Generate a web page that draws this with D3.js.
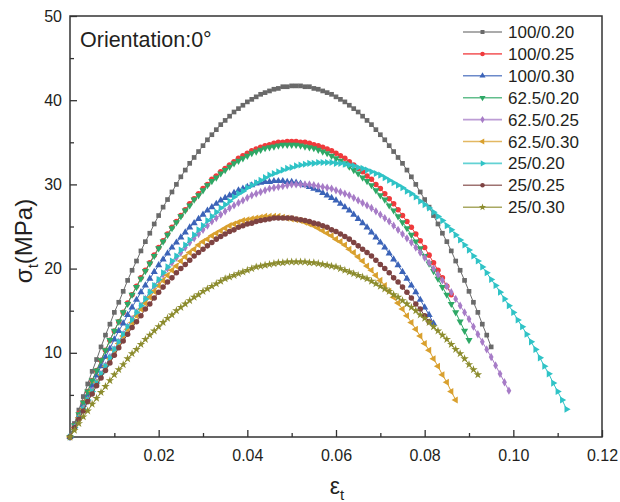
<!DOCTYPE html>
<html><head><meta charset="utf-8">
<script src="https://cdn.jsdelivr.net/npm/d3@7"></script>
<style>
body{margin:0;background:#fff}
svg{display:block}
text{font-family:"Liberation Sans",Arial,Helvetica,sans-serif;fill:#231f20}
</style></head>
<body><svg id="chart" width="620" height="502"></svg>
<script>
// strain values (shared x grid)
const strain = [0,0.001,0.002,0.003,0.004,0.005,0.006,0.007,0.008,0.009,0.010,0.011,0.012,0.013,0.014,0.015,0.016,0.017,0.018,0.019,0.020,0.021,0.022,0.023,0.024,0.025,0.026,0.027,0.028,0.029,0.030,0.031,0.032,0.033,0.034,0.035,0.036,0.037,0.038,0.039,0.040,0.041,0.042,0.043,0.044,0.045,0.046,0.047,0.048,0.049,0.050,0.051,0.052,0.053,0.054,0.055,0.056,0.057,0.058,0.059,0.060,0.061,0.062,0.063,0.064,0.065,0.066,0.067,0.068,0.069,0.070,0.071,0.072,0.073,0.074,0.075,0.076,0.077,0.078,0.079,0.080,0.081,0.082,0.083,0.084,0.085,0.086,0.087,0.088,0.089,0.090,0.091,0.092,0.093,0.094,0.095,0.096,0.097,0.098,0.099,0.100,0.101,0.102,0.103,0.104,0.105,0.106,0.107,0.108,0.109,0.110,0.111,0.112];

const seriesNames = ["100/0.20","100/0.25","100/0.30","62.5/0.20","62.5/0.25","62.5/0.30","25/0.20","25/0.25","25/0.30"];

// stress (MPa) per series, one value per strain step
const s100_020 = [0,1.6,3.2,4.8,6.3,7.8,9.2,10.7,12.1,13.4,14.8,16.0,17.3,18.6,19.8,20.9,22.1,23.2,24.2,25.3,26.3,27.3,28.2,29.1,30.0,30.9,31.7,32.5,33.2,33.9,34.6,35.3,35.9,36.5,37.1,37.6,38.1,38.6,39.0,39.4,39.8,40.1,40.4,40.7,40.9,41.1,41.3,41.4,41.6,41.6,41.7,41.7,41.7,41.6,41.6,41.4,41.3,41.1,40.9,40.7,40.4,40.1,39.8,39.4,39.0,38.6,38.1,37.6,37.1,36.5,35.9,35.3,34.6,33.9,33.2,32.5,31.7,30.9,30.0,29.1,28.2,27.3,26.3,25.3,24.2,23.2,22.1,20.9,19.8,18.6,17.3,16.0,14.8,13.4,12.1,10.7];
const s100_025 = [0,1.4,2.8,4.1,5.4,6.7,7.9,9.1,10.3,11.5,12.6,13.7,14.8,15.9,16.9,17.9,18.9,19.8,20.7,21.6,22.5,23.3,24.1,24.9,25.6,26.3,27.0,27.7,28.3,28.9,29.5,30.0,30.6,31.0,31.5,31.9,32.3,32.7,33.1,33.4,33.7,34.0,34.2,34.4,34.6,34.7,34.9,35.0,35.0,35.1,35.1,35.1,35.0,35.0,34.9,34.7,34.6,34.4,34.2,34.0,33.7,33.4,33.1,32.7,32.3,31.9,31.5,31.0,30.6,30.0,29.5,28.9,28.3,27.7,27.0,26.3,25.6,24.9,24.1,23.3,22.5,21.6,20.7,19.8,18.9,17.9,16.9];
const s100_030 = [0,1.3,2.5,3.8,5.0,6.1,7.3,8.4,9.5,10.5,11.6,12.6,13.5,14.5,15.4,16.3,17.2,18.0,18.8,19.6,20.4,21.1,21.8,22.5,23.1,23.7,24.3,24.9,25.4,25.9,26.4,26.9,27.3,27.7,28.1,28.4,28.7,29.0,29.3,29.5,29.7,29.9,30.1,30.2,30.3,30.3,30.4,30.4,30.4,30.3,30.3,30.2,30.1,29.9,29.7,29.5,29.3,29.0,28.7,28.4,28.1,27.7,27.3,26.9,26.4,25.9,25.4,24.9,24.3,23.7,23.1,22.5,21.8,21.1,20.4,19.6,18.8,18.0,17.2,16.3,15.4,14.5,13.5];
const s625_020 = [0,1.4,2.7,4.1,5.4,6.7,7.9,9.1,10.3,11.5,12.6,13.7,14.8,15.8,16.9,17.8,18.8,19.7,20.6,21.5,22.4,23.2,24.0,24.8,25.5,26.2,26.9,27.5,28.2,28.7,29.3,29.9,30.4,30.8,31.3,31.7,32.1,32.5,32.8,33.1,33.4,33.7,33.9,34.1,34.3,34.4,34.5,34.6,34.7,34.7,34.7,34.7,34.6,34.5,34.4,34.3,34.1,33.9,33.7,33.4,33.1,32.8,32.5,32.1,31.7,31.3,30.8,30.4,29.9,29.3,28.7,28.2,27.5,26.9,26.2,25.5,24.8,24.0,23.2,22.4,21.5,20.6,19.7,18.8,17.8,16.9,15.8,14.8,13.7,12.6,11.5];
const s625_025 = [0,1.1,2.3,3.4,4.4,5.5,6.5,7.5,8.5,9.5,10.4,11.3,12.2,13.1,14.0,14.8,15.6,16.4,17.2,17.9,18.6,19.3,20.0,20.7,21.3,21.9,22.5,23.1,23.6,24.1,24.6,25.1,25.6,26.0,26.4,26.8,27.2,27.5,27.8,28.1,28.4,28.7,28.9,29.1,29.3,29.5,29.6,29.7,29.8,29.9,30.0,30.0,30.0,30.0,30.0,29.9,29.8,29.7,29.6,29.5,29.3,29.1,28.9,28.7,28.4,28.1,27.8,27.5,27.2,26.8,26.4,26.0,25.6,25.1,24.6,24.1,23.6,23.1,22.5,21.9,21.3,20.7,20.0,19.3,18.6,17.9,17.2,16.4,15.6,14.8,14.0,13.1,12.2,11.3,10.4,9.5,8.5,7.5,6.5,5.5];
const s625_030 = [0,1.1,2.3,3.3,4.4,5.4,6.5,7.4,8.4,9.3,10.3,11.1,12.0,12.8,13.6,14.4,15.2,15.9,16.6,17.3,18.0,18.6,19.2,19.8,20.3,20.9,21.4,21.9,22.3,22.8,23.2,23.5,23.9,24.2,24.5,24.8,25.1,25.3,25.5,25.7,25.8,25.9,26.0,26.1,26.2,26.2,26.2,26.2,26.1,26.0,25.9,25.8,25.7,25.5,25.3,25.1,24.8,24.5,24.2,23.9,23.5,23.2,22.8,22.3,21.9,21.4,20.9,20.3,19.8,19.2,18.6,18.0,17.3,16.6,15.9,15.2,14.4,13.6,12.8,12.0,11.1,10.3,9.3,8.4,7.4,6.5,5.4,4.4];
const s25_020 = [0,1.1,2.2,3.3,4.4,5.4,6.4,7.5,8.4,9.4,10.4,11.3,12.2,13.1,13.9,14.8,15.6,16.4,17.2,18.0,18.7,19.5,20.2,20.9,21.5,22.2,22.8,23.4,24.0,24.6,25.1,25.7,26.2,26.7,27.2,27.6,28.0,28.5,28.9,29.2,29.6,29.9,30.2,30.5,30.8,31.1,31.3,31.5,31.7,31.9,32.0,32.2,32.3,32.4,32.5,32.5,32.6,32.6,32.6,32.6,32.5,32.5,32.4,32.3,32.2,32.0,31.9,31.7,31.5,31.3,31.1,30.8,30.5,30.2,29.9,29.6,29.2,28.9,28.5,28.0,27.6,27.2,26.7,26.2,25.7,25.1,24.6,24.0,23.4,22.8,22.2,21.5,20.9,20.2,19.5,18.7,18.0,17.2,16.4,15.6,14.8,13.9,13.1,12.2,11.3,10.4,9.4,8.4,7.5,6.4,5.4,4.4,3.3];
const s25_025 = [0,1.1,2.1,3.1,4.2,5.1,6.1,7.0,7.9,8.8,9.7,10.6,11.4,12.2,13.0,13.7,14.4,15.2,15.8,16.5,17.2,17.8,18.4,18.9,19.5,20.0,20.5,21.0,21.5,21.9,22.3,22.7,23.1,23.5,23.8,24.1,24.4,24.6,24.9,25.1,25.3,25.4,25.6,25.7,25.8,25.9,26.0,26.0,26.0,26.0,26.0,25.9,25.8,25.7,25.6,25.4,25.3,25.1,24.9,24.6,24.4,24.1,23.8,23.5,23.1,22.7,22.3,21.9,21.5,21.0,20.5,20.0,19.5,18.9,18.4,17.8,17.2,16.5,15.8,15.2,14.4,13.7];
const s25_030 = [0,0.8,1.6,2.4,3.1,3.9,4.6,5.3,6.0,6.7,7.4,8.0,8.6,9.3,9.9,10.4,11.0,11.6,12.1,12.6,13.1,13.6,14.1,14.5,15.0,15.4,15.8,16.2,16.6,16.9,17.3,17.6,17.9,18.2,18.5,18.8,19.0,19.2,19.4,19.6,19.8,20.0,20.2,20.3,20.4,20.5,20.6,20.7,20.7,20.8,20.8,20.8,20.8,20.8,20.7,20.7,20.6,20.5,20.4,20.3,20.2,20.0,19.8,19.6,19.4,19.2,19.0,18.8,18.5,18.2,17.9,17.6,17.3,16.9,16.6,16.2,15.8,15.4,15.0,14.5,14.1,13.6,13.1,12.6,12.1,11.6,11.0,10.4,9.9,9.3,8.6,8.0,7.4];

const xTicks = [0.02,0.04,0.06,0.08,0.10,0.12];
const xMinorTicks = [0.01,0.03,0.05,0.07,0.09,0.11];
const yTicks = [10,20,30,40,50];
const yMinorTicks = [5,15,25,35,45];

const seriesValues = [s100_020,s100_025,s100_030,s625_020,s625_025,s625_030,s25_020,s25_025,s25_030];
const colors = ["#6a6a6a","#f03a3c","#3b63b8","#2ea866","#a77cc7","#d9a02e","#2fc3c6","#7e4342","#8c8c2e"];
const markers = [
  {t:d3.symbolSquare, r:0, s:22},
  {t:d3.symbolCircle, r:0, s:24},
  {t:d3.symbolTriangle, r:0, s:22},
  {t:d3.symbolTriangle, r:180, s:22},
  {t:d3.symbolDiamond, r:0, s:20},
  {t:d3.symbolTriangle, r:-90, s:22},
  {t:d3.symbolTriangle, r:90, s:22},
  {t:d3.symbolCircle, r:0, s:24},
  {t:d3.symbolStar, r:0, s:22}
];

const svg = d3.select("#chart");
const L = 70, R = 602, T = 16, B = 437;
const x = d3.scaleLinear().domain([0,0.12]).range([L,R]);
const y = d3.scaleLinear().domain([0,50]).range([B,T]);

// axes
const gx = svg.append("g").attr("transform",`translate(0,${B})`)
  .call(d3.axisBottom(x).tickValues(xTicks).tickFormat(d3.format(".2f")).tickSizeInner(-7).tickSizeOuter(0).tickPadding(13));
const gxm = svg.append("g").attr("transform",`translate(0,${B})`)
  .call(d3.axisBottom(x).tickValues(xMinorTicks).tickFormat("").tickSizeInner(-4).tickSizeOuter(0));
const gy = svg.append("g").attr("transform",`translate(${L},0)`)
  .call(d3.axisLeft(y).tickValues(yTicks).tickFormat(d3.format("d")).tickSizeInner(-7).tickSizeOuter(0).tickPadding(8));
const gym = svg.append("g").attr("transform",`translate(${L},0)`)
  .call(d3.axisLeft(y).tickValues(yMinorTicks).tickFormat("").tickSizeInner(-4).tickSizeOuter(0));
[gx,gxm,gy,gym].forEach(g=>{
  g.select(".domain").remove();
  g.selectAll(".tick line").attr("stroke","#333").attr("stroke-width",1.3);
  g.selectAll(".tick text").style("font-size","16px").attr("fill","#231f20");
});

// frame
svg.append("rect").attr("x",L).attr("y",T).attr("width",R-L).attr("height",B-T)
  .attr("fill","none").attr("stroke","#333").attr("stroke-width",1.5);

// series
const line = d3.line().x(d=>x(d.x)).y(d=>y(d.y));
seriesValues.forEach((vals,k)=>{
  const data = vals.map((v,i)=>({x:strain[i], y:v}));
  const g = svg.append("g");
  g.append("path").datum(data).attr("d",line).attr("fill","none")
    .attr("stroke",colors[k]).attr("stroke-width",1);
  const sym = d3.symbol().type(markers[k].t).size(markers[k].s);
  g.selectAll("path.m").data(data).join("path").attr("class","m")
    .attr("d",sym)
    .attr("transform",d=>`translate(${x(d.x)},${y(d.y)}) rotate(${markers[k].r})`)
    .attr("fill",colors[k]);
});

// legend
const lg = svg.append("g");
seriesNames.forEach((name,k)=>{
  const cy = 32 + k*21.9;
  lg.append("line").attr("x1",463).attr("x2",502).attr("y1",cy).attr("y2",cy)
    .attr("stroke",colors[k]).attr("stroke-width",1.6).attr("stroke-opacity",0.75);
  lg.append("path").attr("d",d3.symbol().type(markers[k].t).size(16)())
    .attr("transform",`translate(482.5,${cy}) rotate(${markers[k].r})`).attr("fill",colors[k]);
  lg.append("text").attr("x",508).attr("y",cy+6).style("font-size","17px").text(name);
});

// annotation
svg.append("text").attr("x",80).attr("y",47).style("font-size","21.5px").text("Orientation:0°");

// axis titles
const yt = svg.append("text").attr("transform","translate(32,241) rotate(-90)").attr("text-anchor","middle").style("font-size","24px");
yt.append("tspan").text("σ");
yt.append("tspan").attr("dy",6).style("font-size","15px").text("t");
yt.append("tspan").attr("dy",-6).text("(MPa)");
const xt = svg.append("text").attr("x",337).attr("y",494).attr("text-anchor","middle").style("font-size","23px");
xt.append("tspan").text("ε");
xt.append("tspan").attr("dy",6).style("font-size","15px").text("t");
</script>
</body></html>
